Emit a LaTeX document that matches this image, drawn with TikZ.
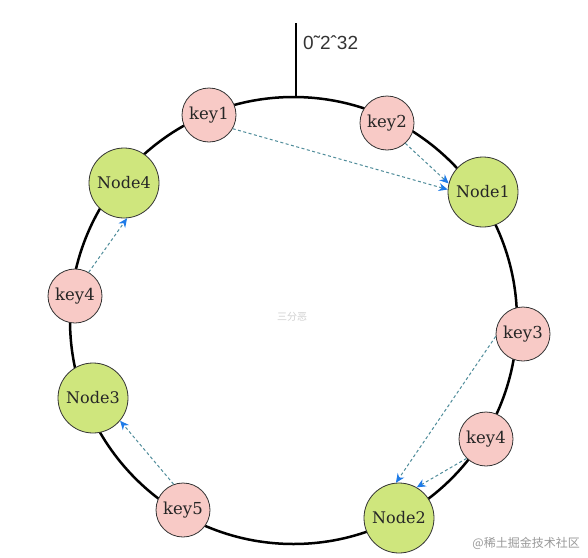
\documentclass[tikz,border=0pt]{standalone}
\usepackage{fontspec}
\setmainfont{DejaVu Serif}
\newfontfamily\cjk{Noto Sans CJK SC}
\newfontfamily\labfont{Liberation Sans}
\usetikzlibrary{arrows.meta}
\definecolor{keyfill}{HTML}{F8CAC6}
\definecolor{nodefill}{HTML}{CFE67D}
\definecolor{edge}{HTML}{333333}
\definecolor{dashc}{HTML}{4F8C9A}
\definecolor{tipc}{HTML}{1E7BE8}
\tikzset{
  keynode/.style={circle, draw=edge, line width=0.8pt, fill=keyfill, minimum size=54pt, inner sep=0pt, font=\fontsize{16.5}{16.5}\selectfont, text=black!85},
  servnode/.style={circle, draw=edge, line width=0.8pt, fill=nodefill, minimum size=70pt, inner sep=0pt, font=\fontsize{16}{16}\selectfont, text=black!85},
  mapto/.style={draw=dashc, line width=1pt, dash pattern=on 3pt off 2.5pt, -{Stealth[length=9pt,width=8pt,color=tipc,fill=tipc]}},
}
\begin{document}
\begin{tikzpicture}[x=1pt,y=-1pt]
\useasboundingbox (0,0) rectangle (588,557);
\fill[white] (0,0) rectangle (588,557);
% ring
\node[circle, draw=black, line width=2.5pt, minimum size=447pt, inner sep=0pt] (ring) at (293.5,320.5) {};
\coordinate (top) at (296,97);
\coordinate (topend) at (296,23);
\draw[line width=2.5pt] (top) -- (topend);
\node[anchor=west, inner sep=0pt, font=\labfont\fontsize{19}{19}\selectfont, text=black!80] (lab) at (303,43) {0\char"02DC 2\char"02C6 32};
% watermark centre
\node[inner sep=0pt, text=black!18, font=\cjk\fontsize{10}{10}\selectfont] (wm) at (292,317) {三分恶};
% nodes
\node[keynode] (key1) at (209,115) {key1};
\node[keynode] (key2) at (387,123) {key2};
\node[servnode] (node1) at (483,192) {Node1};
\node[servnode] (node4) at (124,183) {Node4};
\node[keynode] (key4l) at (75,296) {key4};
\node[servnode] (node3) at (93,398) {Node3};
\node[keynode] (key5) at (183,510) {key5};
\node[servnode] (node2) at (399,518) {Node2};
\node[keynode] (key4r) at (486,439) {key4};
\node[keynode] (key3) at (523,334) {key3};
% mappings
\draw[mapto] (key1.-30) -- (node1.176);
\draw[mapto] (key2.-48) -- (node1.166);
\draw[mapto] (key4l.60) -- (node4.-85);
\draw[mapto] (key5.110) -- (node3.-40);
\draw[mapto] (key3.185) -- (node2.95);
\draw[mapto] (key4r.-135) -- (node2.60);
% watermark
\node[anchor=east, inner sep=0pt, text=black!40, font=\cjk\fontsize{12}{12}\selectfont] (wm2) at (580,543) {@稀土掘金技术社区};
\end{tikzpicture}
\end{document}
